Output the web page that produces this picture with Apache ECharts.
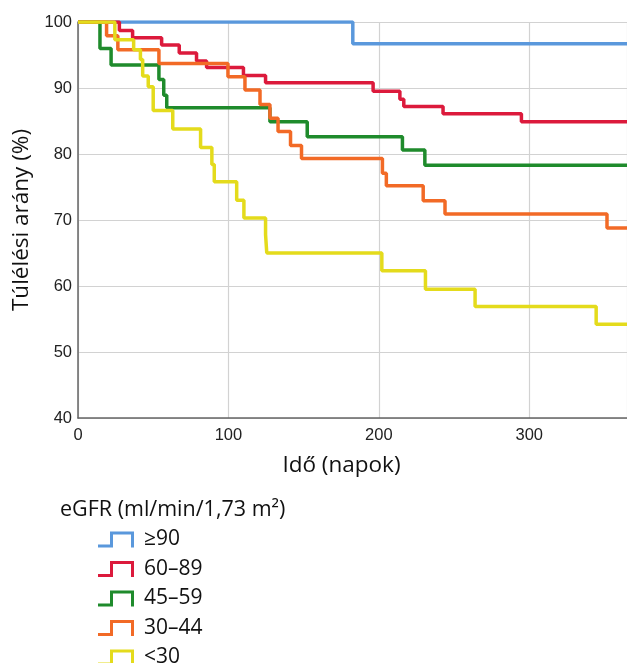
<!DOCTYPE html>
<html>
<head>
<meta charset="utf-8">
<script src="https://cdn.jsdelivr.net/npm/echarts@6/dist/echarts.min.js"></script>
<style>
  html, body { margin: 0; padding: 0; background: #fff; }
  #km-chart { width: 627px; height: 663px; }
</style>
</head>
<body>
<div id="km-chart"></div>
<script>
// eGFR groups (legend order)
var groupNames = ['≥90', '60–89', '45–59', '30–44', '<30']
var groupColors = ['#5a98dc', '#dc1a3c', '#1f8b2c', '#f26a26', '#e4db1c']

// event times (napok) and survival (%)
var timesGe90 = [0, 182.7, 365]
var survGe90 = [100, 96.7, 96.7]

var times6089 = [0, 27.5, 36.3, 55.6, 67.3, 78.8, 85.5, 110, 124.7, 196.2, 214, 216.6, 242.7, 294.8, 365]
var surv6089 = [100, 98.7, 97.6, 96.5, 95.3, 94.1, 93.1, 91.9, 90.8, 89.5, 88.3, 87.2, 86.1, 84.9, 84.9]

var times4559 = [0, 14.6, 22, 53.8, 57, 59, 127.6, 152.4, 215.7, 230.6, 365]
var surv4559 = [100, 96.0, 93.5, 91.3, 88.9, 87.0, 84.9, 82.6, 80.6, 78.3, 78.3]

var times3044 = [0, 19, 26.5, 53.8, 99.7, 111, 121, 127.6, 133, 141.3, 148.6, 202.4, 205, 229.5, 244, 351.7, 365]
var surv3044 = [100, 97.9, 95.8, 93.7, 91.7, 89.7, 87.5, 85.4, 83.4, 81.3, 79.3, 77.1, 75.2, 72.9, 70.9, 68.8, 68.8]

var timesLt30 = [0, 24.5, 37, 41.5, 43, 46.7, 50, 63, 81.5, 89, 90.6, 105.5, 110.3, 124.7, 125.5, 202, 231, 264, 344.5, 365]
var survLt30 = [100, 97.3, 95.8, 94.3, 91.8, 90.2, 86.6, 83.8, 81.0, 78.4, 75.8, 73.0, 70.3, 67.8, 65.0, 62.3, 59.5, 56.9, 54.2, 54.2]

var groupTimes = [timesGe90, times6089, times4559, times3044, timesLt30]
var groupSurv = [survGe90, surv6089, surv4559, surv3044, survLt30]

// step-shaped legend glyph
var stepIcon = 'path://M0,13 L12,13 L12,0 L36,0 L36,16 L33,16 L33,3 L15,3 L15,16 L0,16 Z'

var chart = echarts.init(document.getElementById('km-chart'))

var series = groupNames.map(function (name, i) {
  return {
    name: name,
    type: 'line',
    step: 'end',
    showSymbol: false,
    silent: true,
    animation: false,
    data: groupTimes[i].map(function (t, k) {
      return [t, groupSurv[i][k]]
    }),
    lineStyle: { color: groupColors[i], width: 3.5 },
    itemStyle: { color: groupColors[i] }
  }
})

var option = {
  backgroundColor: '#fff',
  color: groupColors,
  animation: false,
  title: {
    text: 'eGFR (ml/min/1,73 m²)',
    left: 55,
    top: 494,
    textStyle: {
      fontFamily: 'Open Sans',
      fontWeight: 'normal',
      fontSize: 21.5,
      color: '#111'
    }
  },
  legend: {
    orient: 'vertical',
    left: 93,
    top: 524,
    height: 200,
    padding: 5,
    itemWidth: 36,
    itemHeight: 17,
    itemGap: 8.5,
    icon: stepIcon,
    itemStyle: { borderWidth: 0 },
    data: groupNames,
    textStyle: {
      fontFamily: 'Open Sans',
      fontSize: 21,
      color: '#111',
      padding: [0, 0, 0, 5]
    }
  },
  grid: {
    left: 78,
    right: 0,
    top: 22,
    bottom: 245
  },
  xAxis: {
    type: 'value',
    min: 0,
    max: 365,
    interval: 100,
    name: 'Idő (napok)',
    nameLocation: 'middle',
    nameGap: 36,
    nameTextStyle: {
      fontFamily: 'Open Sans',
      fontSize: 22.5,
      color: '#111',
      padding: [0, 22, 0, 0]
    },
    axisLine: { lineStyle: { color: '#666', width: 1.5 } },
    axisTick: { show: false },
    axisLabel: {
      showMaxLabel: false,
      fontFamily: 'Liberation Sans',
      fontSize: 16.5,
      color: '#222',
      margin: 9
    },
    splitLine: { show: true, lineStyle: { color: '#d2d2d2', width: 1.2 } }
  },
  yAxis: {
    type: 'value',
    min: 40,
    max: 100,
    interval: 10,
    name: 'Túlélési arány (%)',
    nameLocation: 'middle',
    nameRotate: 90,
    nameGap: 44,
    nameTextStyle: {
      fontFamily: 'Open Sans',
      fontSize: 22.5,
      color: '#111'
    },
    axisLine: { show: true, lineStyle: { color: '#666', width: 1.5 } },
    axisTick: { show: false },
    axisLabel: {
      fontFamily: 'Liberation Sans',
      fontSize: 16.5,
      color: '#222',
      margin: 6
    },
    splitLine: { show: true, lineStyle: { color: '#d2d2d2', width: 1.2 } }
  },
  series: series
}

chart.setOption(option)
</script>
</body>
</html>
